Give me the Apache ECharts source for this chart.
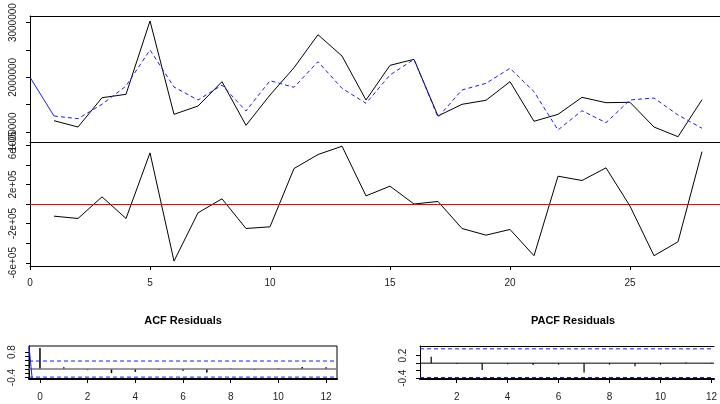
<!DOCTYPE html>
<html>
<head>
<meta charset="utf-8">
<script src="https://cdn.jsdelivr.net/npm/echarts@6/dist/echarts.min.js"></script>
<style>html,body{margin:0;padding:0;background:#fff}#c{width:720px;height:404px}</style>
</head>
<body>
<div id="c"></div>
<script>
// ---- data ----
const timeIdx = [1,2,3,4,5,6,7,8,9,10,11,12,13,14,15,16,17,18,19,20,21,22,23,24,25,26,27,28];
const actual = [1207000,1091000,1627000,1689000,3030000,1323000,1475000,1920000,1122000,1676000,2176000,2779000,2389000,1585000,2219000,2329000,1293000,1506000,1580000,1920000,1196000,1323000,1634000,1536000,1543000,1091000,914000,1590000];
const fittedHeadX = [0,1];
const fittedHead = [2000000,1293000];
const fitted = [1293000,1243000,1506000,1840000,2500000,1823000,1585000,1859000,1384000,1938000,1817000,2285000,1799000,1525000,2042000,2329000,1269000,1768000,1890000,2165000,1737000,1037000,1390000,1170000,1585000,1622000,1311000,1068000];
const residuals = [-124000,-148000,73000,-148000,522000,-583000,-90000,53000,-250000,-233000,362000,505000,590000,83000,182000,0,26000,-250000,-318000,-260000,-528000,284000,240000,369000,-22000,-528000,-386000,535000];
const acfLags = [0,1,2,3,4,5,6,7,8,9,10,11,12];
const acfVals = [1,0.09,-0.05,-0.19,-0.13,-0.04,-0.08,-0.16,0.03,-0.05,0.04,0.1,0.08];
const acfEdgeX = [-0.46,-0.33];
const acfEdgeY = [1.09,-0.42];
const pacfLags = [1,2,3,4,5,6,7,8,9,10,11,12];
const pacfVals = [0.17,-0.02,-0.18,-0.03,-0.05,-0.04,-0.25,-0.04,-0.08,-0.04,0.02,0.01];
const confBand = 0.38;
const topTicks = [1000000,1500000,2000000,2500000,3000000];
const topLabels = [1000000,2000000,3000000];
const midTicks = [-600000,-400000,-200000,0,200000,400000,600000];
const midLabels = [-600000,-200000,200000,600000];
const timeLabels = [0,5,10,15,20,25];
const acfYTicks = [-0.4,-0.2,0,0.2,0.4,0.6,0.8];
const acfYLabels = [-0.4,0.8];
const acfXLabels = [0,2,4,6,8,10,12];
const pacfYTicks = [-0.4,-0.2,0,0.2];
const pacfYLabels = [-0.4,0.2];
const pacfXLabels = [2,4,6,8,10,12];
const titles = ['ACF Residuals','PACF Residuals'];

// ---- chart ----
const FONT = 'Liberation Sans, Arial, sans-serif';
const BLUE = '#1a1aff';
const ACF_X = [-0.46, 12.46];
const PACF_X = [0.56, 12.1];
const pair = (xs, ys) => xs.map((x,i)=>[x, ys[i]]);
const lab = {color:'#222', fontSize:10, fontFamily:FONT};
const axLine = {show:true, onZero:false, lineStyle:{color:'#000', width:1}};
const tick = (vals) => ({show:true, length:4, lineStyle:{color:'#000'}, customValues: vals});
const noGrid = {show:false, containLabel:false};
const topBorder = (g, r) => ({gridIndex:g, type:'value', position:'top', min:r[0], max:r[1], axisLine:axLine, axisTick:{show:false}, axisLabel:{show:false}, splitLine:{show:false}});
const bandLine = (xi, r, v) => ({type:'line', xAxisIndex:xi, yAxisIndex:xi, data:pair(r, [v, v]), symbol:'none', silent:true,
  lineStyle:{color:BLUE, width:1, type:[4,3]}});

const chart = echarts.init(document.getElementById('c'), null, {renderer:'canvas'});
chart.setOption({
  animation:false,
  backgroundColor:'#fff',
  title: [
    {text:titles[0], left:183, top:315, textAlign:'center', padding:0, textStyle:{fontSize:11, fontWeight:'bold', fontFamily:FONT, color:'#000'}},
    {text:titles[1], left:573, top:315, textAlign:'center', padding:0, textStyle:{fontSize:11, fontWeight:'bold', fontFamily:FONT, color:'#000'}}
  ],
  grid: [
    Object.assign({left:30, top:16, width:690, height:126}, noGrid),
    Object.assign({left:30, top:142, width:690, height:124}, noGrid),
    {left:29, top:346, width:308, height:33, show:true, borderColor:'#000', borderWidth:1, backgroundColor:'transparent', containLabel:false},
    Object.assign({left:420, top:346, width:300, height:33}, noGrid)
  ],
  xAxis: [
    {gridIndex:0, type:'value', min:0, max:28.75, axisLine:axLine, axisTick:{show:false}, axisLabel:{show:false}, splitLine:{show:false}},
    {gridIndex:1, type:'value', min:0, max:28.75, axisLine:axLine, axisTick:tick(timeLabels), axisLabel:Object.assign({customValues:timeLabels, margin:12}, lab), splitLine:{show:false}},
    {gridIndex:2, type:'value', min:ACF_X[0], max:ACF_X[1], axisLine:Object.assign({}, axLine, {lineStyle:{color:'#000', width:2}}), axisTick:tick(acfXLabels), axisLabel:Object.assign({customValues:acfXLabels, margin:13}, lab), splitLine:{show:false}},
    {gridIndex:3, type:'value', min:PACF_X[0], max:PACF_X[1], axisLine:Object.assign({}, axLine, {lineStyle:{color:'#000', width:2}}), axisTick:tick(pacfXLabels), axisLabel:Object.assign({customValues:pacfXLabels, margin:13}, lab), splitLine:{show:false}},
    topBorder(0, [0, 28.75]),
    topBorder(3, PACF_X)
  ],
  yAxis: [
    {gridIndex:0, type:'value', min:817000, max:3121000, axisLine:axLine, axisTick:tick(topTicks), axisLabel:Object.assign({customValues:topLabels, rotate:90, margin:12, formatter:v=>String(v)}, lab), splitLine:{show:false}},
    {gridIndex:1, type:'value', min:-633000, max:633000, axisLine:axLine, axisTick:tick(midTicks), axisLabel:Object.assign({customValues:midLabels, rotate:90, margin:12, formatter:v=>(v<0?'-':'')+Math.abs(v/100000)+'e+05'}, lab), splitLine:{show:false}},
    {gridIndex:2, type:'value', min:-0.47, max:1.09, axisLine:axLine, axisTick:tick(acfYTicks), axisLabel:Object.assign({customValues:acfYLabels, rotate:90, margin:12, formatter:v=>v.toFixed(1)}, lab), splitLine:{show:false}},
    {gridIndex:3, type:'value', min:-0.42, max:0.455, axisLine:axLine, axisTick:tick(pacfYTicks), axisLabel:Object.assign({customValues:pacfYLabels, rotate:90, margin:12, formatter:v=>v.toFixed(1)}, lab), splitLine:{show:false}}
  ],
  series: [
    {type:'line', xAxisIndex:0, yAxisIndex:0, data:pair(timeIdx, actual), symbol:'none', lineStyle:{color:'#000', width:1}},
    {type:'line', xAxisIndex:0, yAxisIndex:0, data:pair(fittedHeadX, fittedHead), symbol:'none', lineStyle:{color:BLUE, width:1}},
    {type:'line', xAxisIndex:0, yAxisIndex:0, data:pair(timeIdx, fitted), symbol:'none', lineStyle:{color:BLUE, width:1, type:[4,3]}},
    {type:'line', xAxisIndex:1, yAxisIndex:1, data:pair(timeIdx, residuals), symbol:'none', lineStyle:{color:'#000', width:1},
      markLine:{silent:true, symbol:'none', label:{show:false}, lineStyle:{color:'#ff0000', width:1, type:'solid'}, data:[{yAxis:0}]}},
    {type:'bar', xAxisIndex:2, yAxisIndex:2, data:pair(acfLags, acfVals), barWidth:1.5, itemStyle:{color:'#000'}},
    {type:'line', xAxisIndex:2, yAxisIndex:2, data:pair(ACF_X, [0, 0]), symbol:'none', silent:true, lineStyle:{color:'#777', width:1.5}},
    bandLine(2, ACF_X, confBand),
    bandLine(2, ACF_X, -confBand),
    {type:'line', xAxisIndex:2, yAxisIndex:2, data:pair(acfEdgeX, acfEdgeY), symbol:'none', lineStyle:{color:BLUE, width:1}},
    {type:'bar', xAxisIndex:3, yAxisIndex:3, data:pair(pacfLags, pacfVals), barWidth:1.2, itemStyle:{color:'#000'}},
    {type:'line', xAxisIndex:3, yAxisIndex:3, data:pair(PACF_X, [0, 0]), symbol:'none', silent:true, lineStyle:{color:'#000', width:1}},
    bandLine(3, PACF_X, confBand),
    bandLine(3, PACF_X, -confBand)
  ]
});
</script>
</body>
</html>
